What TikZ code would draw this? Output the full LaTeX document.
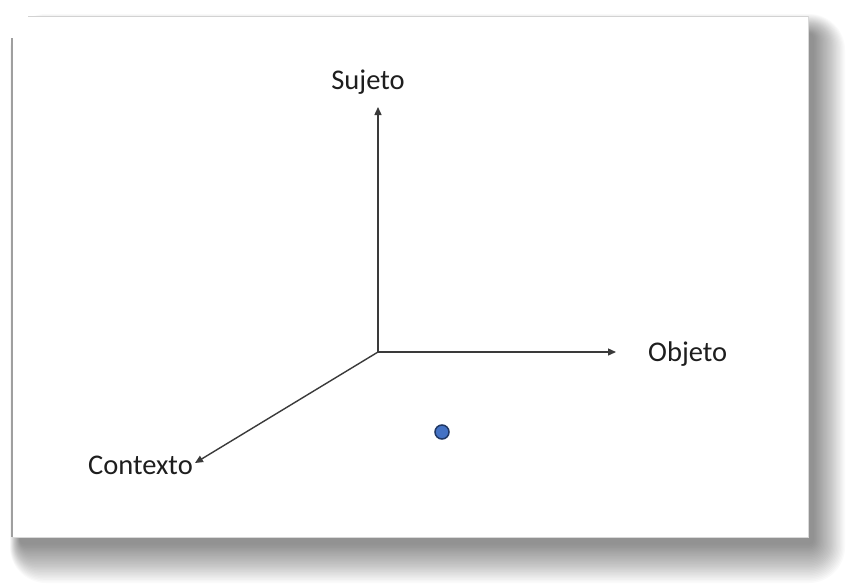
\documentclass[tikz,border=0pt]{standalone}
\usepackage{fontspec}
\setmainfont{Carlito}
\usetikzlibrary{arrows.meta}
\definecolor{axis}{HTML}{3A3A3A}
\definecolor{txt}{HTML}{1E1E1E}
\definecolor{dotfill}{HTML}{4472C4}
\definecolor{dotline}{HTML}{203864}
\tikzset{
  axisline/.style={draw=axis, line width=1.4pt, -{Triangle[length=8pt,width=7pt]}},
  lbl/.style={text=txt, font=\fontsize{28.5}{34}\selectfont, inner sep=0pt},
}
\begin{document}
\begin{tikzpicture}[x=1pt,y=-1pt]
\useasboundingbox (0,0) rectangle (846,584);
\fill[white] (0,0) rectangle (846,584);
% shadow
\foreach \i in {0,...,24}{
  \fill[black, opacity=0.019, rounded corners={(36-\i*1.3)*1pt}]
    (10+\i*0.4, 14+\i*0.8) rectangle (845-\i*1.3, 583-\i*1.6);
}
% card
\fill[white] (12,16) rectangle (808,537);
\draw[gray!75, line width=1.2pt] (12,38) -- (12,537);
\draw[gray!35, line width=1pt] (28,16) -- (808,16);
\draw[gray!30, line width=0.6pt] (808,16) -- (808,537) -- (12,537);
% axes
\coordinate (o) at (378,352);
\coordinate (ys) at (378,107);
\coordinate (xo) at (616,352);
\coordinate (zc) at (195,463);
\draw[axisline] (o) -- (ys);
\draw[axisline] (o) -- (xo);
\draw[axisline] (o) -- (zc);
\node[lbl] (sujeto) at (368,82) {Sujeto};
\node[lbl, anchor=west] (objeto) at (648,354) {Objeto};
\node[lbl, anchor=east] (contexto) at (193,465) {Contexto};
\node[circle, fill=dotfill, draw=dotline, line width=1.5pt, minimum size=14pt, inner sep=0pt] (dot) at (442,432) {};
\end{tikzpicture}
\end{document}
